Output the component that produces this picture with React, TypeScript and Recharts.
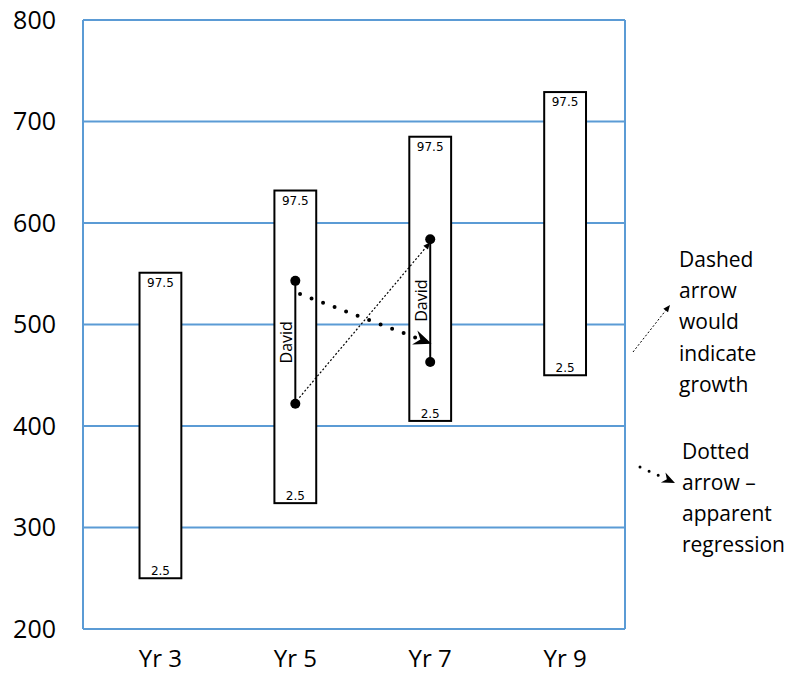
import {
  CartesianGrid,
  ComposedChart,
  ReferenceArea,
  ReferenceLine,
  Scatter,
  XAxis,
  YAxis
} from 'recharts'

// Year groups and the 2.5 / 97.5 percentile bands
const YEARS = [3, 5, 7, 9]
const LOW_25 = [250, 324, 405, 450]
const HIGH_975 = [551, 632, 685, 729]
const Y_TICKS = [200, 300, 400, 500, 600, 700, 800]

// David's two scores (upper / lower) in Yr 5 and Yr 7
const DAVID_YR5 = [
  { x: 5, y: 543 },
  { x: 5, y: 422 }
]
const DAVID_YR7 = [
  { x: 7, y: 584 },
  { x: 7, y: 463 }
]

// arrows between the two years
const GROWTH_ARROW = [
  { x: 5.06, y: 428 },
  { x: 7, y: 581 }
]
const REGRESSION_ARROW = [
  { x: 5.07, y: 530 },
  { x: 7.02, y: 481 }
]

const BLUE = '#5B9BD5'
const FONT = '"Open Sans", sans-serif'
const BOX_HALF = 0.31

const midPoint = (pts: { x: number; y: number }[]) => [
  { x: pts[0].x, y: (pts[0].y + pts[1].y) / 2 }
]

const head = (
  x1: number,
  y1: number,
  x2: number,
  y2: number,
  len: number,
  half: number,
  notch = 0
) => {
  const a = Math.atan2(y2 - y1, x2 - x1)
  const c = Math.cos(a)
  const s = Math.sin(a)
  const bx = x2 - c * len
  const by = y2 - s * len
  const nx = x2 - c * (len - notch)
  const ny = y2 - s * (len - notch)
  return {
    points: `${x2},${y2} ${bx - s * half},${by + c * half} ${nx},${ny} ${bx + s * half},${by - c * half}`,
    bx,
    by
  }
}

const Box = (props: any) => {
  const { x, y, width, height } = props
  return (
    <g>
      <rect x={x} y={y} width={width} height={height} fill='#fff' stroke='#000' strokeWidth={2} />
      <text x={x + width / 2} y={y + 14} textAnchor='middle' fontSize={12} fontFamily='"DejaVu Sans"' fill='#000'>
        97.5
      </text>
      <text x={x + width / 2} y={y + height - 3} textAnchor='middle' fontSize={12} fontFamily='"DejaVu Sans"' fill='#000'>
        2.5
      </text>
    </g>
  )
}

const GrowthArrow = (props: any) => {
  const { x1, y1, x2, y2 } = props
  const h = head(x1, y1, x2, y2, 7, 3)
  return (
    <g>
      <line x1={x1} y1={y1} x2={h.bx} y2={h.by} stroke='#000' strokeWidth={1.2} strokeDasharray='2 2' />
      <polygon points={h.points} fill='#000' />
    </g>
  )
}

const RegressionArrow = (props: any) => {
  const { x1, y1, x2, y2 } = props
  const h = head(x1, y1, x2, y2, 18, 7.5, 6)
  return (
    <g>
      <line
        x1={x1}
        y1={y1}
        x2={h.bx + 3}
        y2={h.by + 1}
        stroke='#000'
        strokeWidth={4}
        strokeLinecap='round'
        strokeDasharray='0 12.3'
      />
      <polygon points={h.points} fill='#000' />
    </g>
  )
}

const Dot = (props: any) => <circle cx={props.cx} cy={props.cy} r={5} fill='#000' />

const DavidLabel = (props: any) => (
  <text
    x={props.cx - 9}
    y={props.cy}
    transform={`rotate(-90 ${props.cx - 9} ${props.cy})`}
    textAnchor='middle'
    dominantBaseline='central'
    fontSize={16}
    fontFamily={FONT}
    fill='#000'
  >
    David
  </text>
)

const Notes = () => {
  const g = head(633, 352, 670, 305, 7, 3)
  const r = head(640, 467, 675, 483, 13, 5.5, 4)
  const txt = { fontFamily: FONT, fontSize: 21, fill: '#000' }
  return (
    <svg width={792} height={673} style={{ position: 'absolute', left: 0, top: 0, pointerEvents: 'none' }}>
      <line x1={633} y1={352} x2={g.bx} y2={g.by} stroke='#000' strokeWidth={1} strokeDasharray='2 2' />
      <polygon points={g.points} fill='#000' />
      <line
        x1={640}
        y1={467}
        x2={r.bx}
        y2={r.by}
        stroke='#000'
        strokeWidth={3}
        strokeLinecap='round'
        strokeDasharray='0 10'
      />
      <polygon points={r.points} fill='#000' />
      {['Dashed', 'arrow', 'would', 'indicate', 'growth'].map((t, i) => (
        <text key={t} x={679} y={267 + i * 31.2} {...txt}>
          {t}
        </text>
      ))}
      {['Dotted', 'arrow –', 'apparent', 'regression'].map((t, i) => (
        <text key={t} x={682} y={459 + i * 31} {...txt}>
          {t}
        </text>
      ))}
    </svg>
  )
}

export default function App() {
  return (
    <div style={{ position: 'absolute', left: 0, top: 0, width: 792, height: 673, background: '#fff' }}>
      <ComposedChart width={792} height={673} margin={{ top: 20, right: 167, bottom: 0, left: 0 }}>
        <CartesianGrid
          stroke={BLUE}
          strokeWidth={2}
          horizontal
          vertical
          verticalCoordinatesGenerator={({ offset }: any) => [offset.left, offset.left + offset.width]}
        />
        <XAxis
          type='number'
          dataKey='x'
          domain={[1.852, 9.888]}
          ticks={YEARS}
          tickFormatter={(v: number) => `Yr ${v}`}
          axisLine={false}
          tickLine={false}
          tickSize={0}
          tickMargin={21}
          height={44}
          tick={{ fill: '#000', fontSize: 24, fontFamily: FONT }}
          allowDataOverflow
        />
        <YAxis
          type='number'
          dataKey='y'
          domain={[200, 800]}
          ticks={Y_TICKS}
          axisLine={false}
          tickLine={false}
          tickSize={0}
          tickMargin={27}
          width={83}
          tick={{ fill: '#000', fontSize: 25, fontFamily: FONT }}
          allowDataOverflow
        />
        {YEARS.map((yr, i) => (
          <ReferenceArea
            key={yr}
            x1={yr - BOX_HALF}
            x2={yr + BOX_HALF}
            y1={LOW_25[i]}
            y2={HIGH_975[i]}
            shape={Box}
          />
        ))}
        <ReferenceLine segment={GROWTH_ARROW} shape={GrowthArrow} />
        <ReferenceLine segment={REGRESSION_ARROW} shape={RegressionArrow} />
        <Scatter data={DAVID_YR5} line={{ stroke: '#000', strokeWidth: 2 }} shape={Dot} isAnimationActive={false} />
        <Scatter data={DAVID_YR7} line={{ stroke: '#000', strokeWidth: 2 }} shape={Dot} isAnimationActive={false} />
        <Scatter data={midPoint(DAVID_YR5)} shape={DavidLabel} isAnimationActive={false} />
        <Scatter data={midPoint(DAVID_YR7)} shape={DavidLabel} isAnimationActive={false} />
      </ComposedChart>
      <Notes />
    </div>
  )
}
